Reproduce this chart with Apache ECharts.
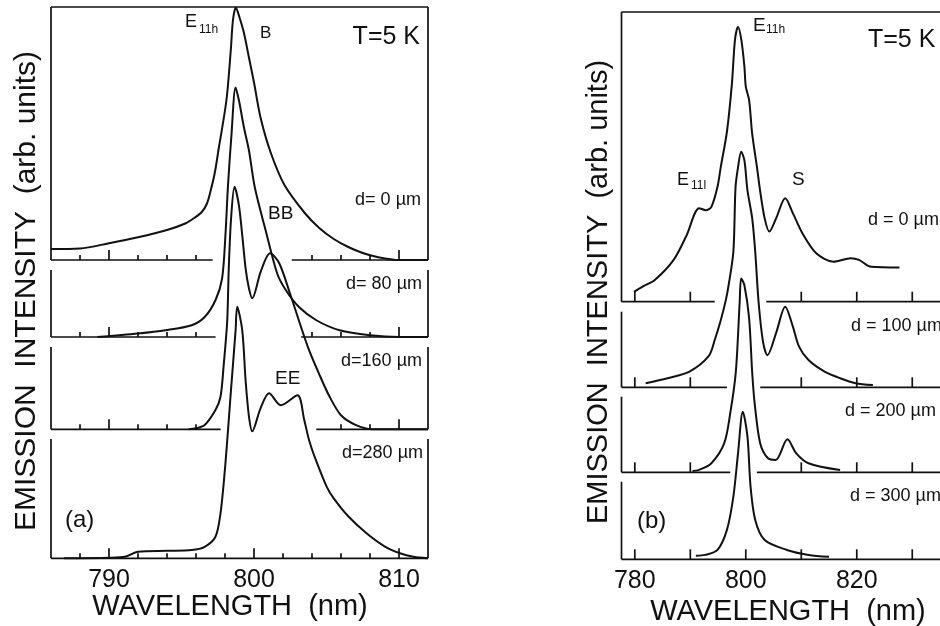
<!DOCTYPE html>
<html>
<head>
<meta charset="utf-8">
<script src="https://cdn.jsdelivr.net/npm/echarts@6/dist/echarts.min.js"></script>
<style>
  html, body { margin: 0; background: #fff; }
  #chart { width: 940px; height: 626px; }
</style>
</head>
<body>
<div id="chart"></div>
<script>
// spectra: [wavelength (nm), intensity (arb. units)]
// panel (a)
const aD0 = [[786.0, 4.4], [788.0, 4.6], [790.0, 6.7], [792.0, 9.1], [794.0, 12.0], [795.3, 14.7], [795.9, 16.9],
  [796.4, 19.2], [796.75, 22.5], [797.0, 27.5], [797.3, 35], [797.55, 44], [798.1, 64], [798.4, 84], [798.55, 96],
  [798.75, 101], [799.0, 97], [799.3, 91], [799.65, 81], [800.0, 71], [800.45, 57], [801.15, 43], [802.1, 30],
  [803.5, 18.8], [804.5, 12.8], [805.5, 8.4], [806.5, 5.2], [807.5, 2.8], [808.5, 1.2], [810.0, 0], [812, 0]];
const aD80 = [[789.2, 0], [792.0, 1.4], [793.9, 2.7], [795.7, 4.7], [796.6, 8], [797.35, 14.8], [797.8, 23.4],
  [798.03, 40.7], [798.2, 60], [798.45, 81.2], [798.73, 99.8], [798.96, 94.7], [799.3, 84], [799.65, 74.7],
  [800.05, 60], [800.8, 42.7], [801.6, 25.4], [802.2, 18.7], [803.1, 12], [804.3, 6.7], [805.9, 2.7], [808.0, 0.7],
  [810.0, 0], [812, 0]];
const aD160 = [[795.5, 0], [796.0, 0.4], [796.6, 1.7], [797.34, 7.7], [797.69, 13], [797.92, 26.4], [798.15, 43],
  [798.26, 64.4], [798.42, 84.4], [798.66, 97], [798.96, 89.6], [799.19, 77.6], [799.42, 64.4], [799.65, 56.4],
  [799.88, 52.4], [800.46, 63], [801.11, 70.4], [801.74, 66.4], [802.5, 54], [803.7, 33.2], [804.5, 22],
  [805.2, 13.2], [806.0, 5.6], [807.0, 1.8], [808.2, 0], [812, 0]];
const aD280 = [[786.9, 0], [790.0, 0.2], [791.1, 0.6], [792.0, 2.6], [794.0, 3], [795.7, 3.3], [796.6, 4.6],
  [797.34, 8.6], [797.69, 18], [798.03, 38], [798.38, 64.8], [798.73, 91.2], [798.84, 100.6], [799.19, 91.2],
  [799.42, 71.2], [799.65, 56.8], [799.88, 50.8], [800.45, 60], [801.04, 66], [801.85, 61.2], [803.0, 65.2],
  [803.47, 55.2], [803.8, 47.2], [804.17, 40.8], [805.0, 28.8], [805.5, 24], [806.5, 16.8], [807.76, 10],
  [809.0, 4.8], [810.07, 2], [811.0, 0.6], [812, 0]];
// panel (b)
const bD0 = [[779.85, 3.6], [781.4, 5.5], [783.6, 7.9], [787.0, 15.2], [789.3, 24], [791.6, 34], [792.8, 33.3],
  [793.8, 34.5], [794.9, 41.8], [795.5, 49.1], [796.6, 61.8], [797.5, 79.3], [798.05, 95.2], [798.6, 100],
  [799.2, 95.2], [799.75, 85.5], [800.0, 78.2], [800.6, 73.3], [801.15, 61.1], [802.0, 49.1], [802.56, 40.6],
  [803.4, 30.3], [804.25, 25.5], [805.5, 30.5], [807.1, 37.6], [808.5, 32.1], [810.2, 24.9], [812.7, 17.6],
  [815.8, 14.5], [818.95, 15.8], [820.4, 15.2], [822.6, 12.7], [827.7, 12.4]];
const bD100 = [[781.95, 1.5], [785.9, 3.3], [789.85, 5.7], [793.3, 11.3], [794.4, 17.2], [795.5, 24.5],
  [796.4, 31.7], [796.9, 37.1], [797.76, 49.3], [798.15, 72.7], [798.6, 80], [799.17, 85.7], [799.75, 82.5],
  [800.3, 71.6], [801.15, 61.5], [801.7, 49.3], [802.3, 31.1], [803.1, 16.6], [803.9, 11.7], [805.5, 20],
  [807.1, 29.3], [808.5, 22], [809.6, 14.8], [811.3, 9.9], [814.2, 5.7], [817.0, 3.3], [819.8, 1.5], [822.9, 0.8]];
const bD200 = [[790.4, 0.5], [791.5, 0.8], [793.8, 3.3], [796.1, 10.5], [797.2, 21.5], [798.2, 36.4], [798.9, 62],
  [799.17, 70.5], [799.75, 68], [800.6, 56], [801.15, 36.4], [801.6, 25.1], [802.6, 10.5], [804.0, 5.1],
  [805.4, 4.5], [807.5, 12], [809.1, 6.9], [811.3, 3.3], [817.0, 0.8]];
const bD300 = [[791.0, 1.3], [792.7, 1.6], [794.9, 3.4], [796.6, 10.7], [797.76, 22.8], [798.6, 38.5],
  [799.46, 53.7], [800.3, 44.6], [800.86, 26.4], [801.7, 14.3], [803.4, 7], [807.4, 3.4], [811.3, 1.6], [815.0, 0.9]];

// axis ticks and labels
const ticksA = [788, 790, 792, 794, 796, 798, 800, 802, 804, 806, 808, 810];
const majorA = [790, 800, 810];
const labelsA = [790, 800, 810];
const ticksB = [780, 790, 800, 810, 820, 830];
const labelsB = [780, 800, 820];

const FONT = '"Liberation Sans", Arial, sans-serif';

// each panel is a stack of four boxes, one per spectrum
const panels = [
  {
    curves: [aD0, aD80, aD160, aD280],
    xMin: 786, xMax: 812, left: 51, width: 377,
    boxes: [[7, 260], [270, 337], [347, 429.3], [439, 558.3]],
    gaps: [[797.15, 802.6], [797.35, 803.25], [797.7, 804.3], null], // baseline is broken where curves pass
    pxPerUnit: 2.5,
    ticks: ticksA, major: majorA, labels: labelsA,
    minorLen: 5, majorLen: 10, rightLine: true
  },
  {
    curves: [bD0, bD100, bD200, bD300],
    xMin: 777.6, xMax: 835, left: 621.5, width: 338.7,
    boxes: [[12, 301.7], [311.7, 387.3], [396.7, 472.3], [481.7, 559.3]],
    gaps: [[794.4, 803.7], [796.6, 802.6], [797.2, 802.0], null],
    pxPerUnit: 2.75,
    ticks: ticksB, major: ticksB, labels: labelsB,
    minorLen: 10, majorLen: 10, rightLine: false
  }
];

function frameSeries(idx, p, k, yMax) {
  const gap = p.gaps[k];
  return {
    type: 'custom',
    xAxisIndex: idx,
    yAxisIndex: idx,
    silent: true,
    z: 1,
    data: [[p.xMin, 0]],
    renderItem: function (params, api) {
      const style = { stroke: '#111', lineWidth: 1.7 };
      const seg = function (a, b) {
        return { type: 'line', shape: { x1: a[0], y1: a[1], x2: b[0], y2: b[1] }, style: style };
      };
      const out = [];
      const spans = gap ? [[p.xMin, gap[0]], [gap[1], p.xMax]] : [[p.xMin, p.xMax]];
      spans.forEach(function (s) {
        out.push(seg(api.coord([s[0], 0]), api.coord([s[1], 0])));
      });
      p.ticks.forEach(function (v) {
        if (gap && v > gap[0] && v < gap[1]) return;
        const b = api.coord([v, 0]);
        const len = p.major.indexOf(v) >= 0 ? p.majorLen : p.minorLen;
        out.push(seg(b, [b[0], b[1] - len]));
      });
      out.push(seg(api.coord([p.xMin, 0]), api.coord([p.xMin, yMax])));
      if (p.rightLine) out.push(seg(api.coord([p.xMax, 0]), api.coord([p.xMax, yMax])));
      if (k === 0) out.push(seg(api.coord([p.xMin, yMax]), api.coord([p.xMax, yMax])));
      return { type: 'group', children: out };
    }
  };
}

const grids = [];
const xAxes = [];
const yAxes = [];
const series = [];

panels.forEach(function (p) {
  p.boxes.forEach(function (box, k) {
    const idx = grids.length;
    const h = box[1] - box[0];
    const yMax = h / p.pxPerUnit;
    const last = k === p.boxes.length - 1;
    grids.push({ left: p.left, top: box[0], width: p.width, height: h });
    xAxes.push({
      type: 'value', gridIndex: idx, min: p.xMin, max: p.xMax, show: last,
      axisLine: { show: false }, axisTick: { show: false }, splitLine: { show: false },
      axisLabel: { customValues: p.labels, margin: 9, fontSize: 25, color: '#111', fontFamily: FONT }
    });
    yAxes.push({ type: 'value', gridIndex: idx, min: 0, max: yMax, show: false, splitLine: { show: false } });
    series.push(frameSeries(idx, p, k, yMax));
    series.push({
      type: 'line', xAxisIndex: idx, yAxisIndex: idx,
      data: p.curves[k], showSymbol: false, smooth: 0.3, clip: false, silent: true, z: 3,
      lineStyle: { color: '#111', width: 2 }
    });
  });
});

function label(text, x, y, size, align) {
  return {
    type: 'text', x: x, y: y, silent: true,
    style: { text: text, fill: '#111', font: size + 'px ' + FONT, align: align || 'left', verticalAlign: 'middle' }
  };
}
function vlabel(text, x, y, size) {
  const t = label(text, x, y, size, 'center');
  t.rotation = Math.PI / 2;
  return t;
}

const graphic = [
  // panel (a)
  label('T=5 K', 420, 37, 25, 'right'),
  label('E', 185, 22, 18), label('11h', 199, 29.5, 12),
  label('B', 260, 33, 17),
  label('BB', 268, 214, 19),
  label('EE', 275, 379, 19),
  label('(a)', 65, 520, 24),
  label('d= 0 µm', 421, 200, 18, 'right'),
  label('d= 80 µm', 422, 284, 18, 'right'),
  label('d=160 µm', 422, 361, 18, 'right'),
  label('d=280 µm', 423, 453, 18, 'right'),
  label('WAVELENGTH  (nm)', 230, 607, 29, 'center'),
  vlabel('EMISSION  INTENSITY  (arb. units)', 27, 291, 30),
  // panel (b)
  label('T=5 K', 868, 40, 25),
  label('E', 753, 25.5, 19), label('11h', 766, 29.5, 12),
  label('E', 677, 180, 18), label('11l', 691, 186, 12),
  label('S', 792, 180, 19),
  label('(b)', 637, 521, 24),
  label('d = 0 µm', 868, 220, 18),
  label('d = 100 µm', 851, 326, 18),
  label('d = 200 µm', 845, 411, 18),
  label('d = 300 µm', 850, 496, 18),
  label('WAVELENGTH  (nm)', 788, 612, 29, 'center'),
  vlabel('EMISSION  INTENSITY  (arb. units)', 599, 292, 29)
];

const chart = echarts.init(document.getElementById('chart'));
chart.setOption({
  backgroundColor: '#fff',
  animation: false,
  grid: grids,
  xAxis: xAxes,
  yAxis: yAxes,
  series: series,
  graphic: graphic
});
</script>
</body>
</html>
